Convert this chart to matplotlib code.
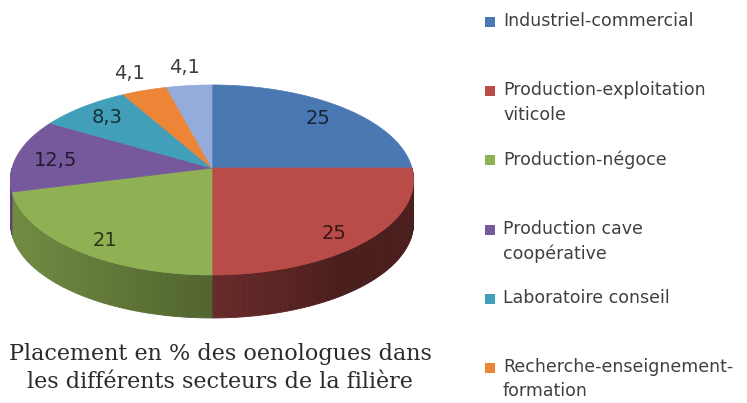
import numpy as np
import matplotlib.pyplot as plt
from matplotlib.patches import Polygon, Rectangle
from matplotlib.colors import to_rgb

# data
values = [25, 25, 21, 12.5, 8.3, 4.1, 4.1]
value_labels = ["25", "25", "21", "12,5", "8,3", "4,1", "4,1"]
colors = ["#4a78b2", "#b94b49", "#8fb053", "#76599c", "#429fba", "#ec8535", "#93acdc"]
legend_labels = ["Industriel-commercial",
                 "Production-exploitation\nviticole",
                 "Production-négoce",
                 "Production cave\ncoopérative",
                 "Laboratoire conseil",
                 "Recherche-enseignement-\nformation"]
title = "Placement en % des oenologues dans\nles différents secteurs de la filière"

# pseudo 3d geometry (pixels)
CX, CY = 212, 168
RX, RY = 200, 93.5
P = 0.126
DEPTH = 43


def proj(t, r=1.0):
    t = np.radians(t)
    w = 1 + P * r * np.sin(t)
    return CX + RX * r * np.cos(t) / w, CY - RY * r * np.sin(t) / w


def shade(t):
    f = 0.52 + 0.27 * np.cos(np.radians(t - 190))
    return max(f, 0.4)


fig = plt.figure(figsize=(7.47, 4.03), dpi=100)
ax = fig.add_axes([0, 0, 1, 1])
ax.set_xlim(0, 747)
ax.set_ylim(403, 0)
ax.axis('off')

cum = np.cumsum([0] + values) / np.sum(values)
a_start = 90 - cum[:-1] * 360
a_end = 90 - cum[1:] * 360

# side walls (front half only)
for i in range(len(values)):
    lo, hi = max(a_end[i], -180), min(a_start[i], 0)
    if lo >= hi:
        continue
    base = np.array(to_rgb(colors[i]))
    ts = np.linspace(lo, hi, max(int((hi - lo) / 1.5), 2) + 1)
    for t0, t1 in zip(ts[:-1], ts[1:]):
        x0, y0 = proj(t0)
        x1, y1 = proj(t1)
        c = base * shade((t0 + t1) / 2 % 360)
        ax.add_patch(Polygon([(x0, y0), (x1, y1), (x1, y1 + DEPTH), (x0, y0 + DEPTH)],
                             closed=True, fc=c, ec=c, lw=0.6))

# top face
for i in range(len(values)):
    ts = np.linspace(a_start[i], a_end[i], 80)
    xs, ys = proj(ts)
    pts = [(CX, CY)] + list(zip(xs, ys))
    ax.add_patch(Polygon(pts, closed=True, fc=colors[i], ec=colors[i], lw=0.5))

# value labels
for i in range(len(values)):
    mid = (a_start[i] + a_end[i]) / 2
    if values[i] < 5:
        x, y = proj(mid, 1.25)
        col = "#404040"
    else:
        x, y = proj(mid, 0.8)
        y += 4 - 6 * np.sin(np.radians(mid))
        col = np.array(to_rgb(colors[i])) * 0.3
    ax.text(x, y, value_labels[i], ha='center', va='center', fontsize=14,
            family='DejaVu Sans', color=col)

# legend
for i, lab in enumerate(legend_labels):
    y = 22 + i * 69.2
    ax.add_patch(Rectangle((485, y - 5), 10, 10, fc=colors[i], ec='none'))
    ax.text(503, y - 10, lab, ha='left', va='top', fontsize=12.5, family='DejaVu Sans',
            color='#404040', linespacing=1.45)

ax.text(220, 368, title, ha='center', va='center', fontsize=16, family='DejaVu Serif',
        color='#2b2b2b', linespacing=1.4)

plt.savefig("out.png", dpi=100)
